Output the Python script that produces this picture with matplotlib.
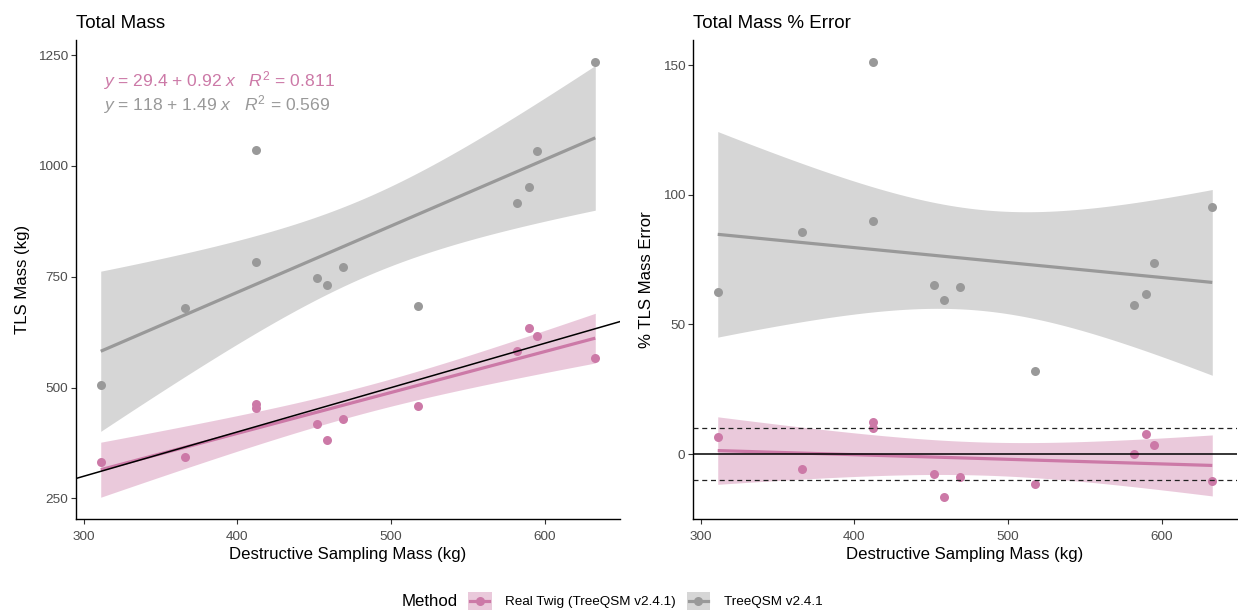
import numpy as np
import matplotlib
matplotlib.use("Agg")
import matplotlib.pyplot as plt
from matplotlib.patches import Rectangle
from matplotlib.lines import Line2D
from matplotlib.legend_handler import HandlerBase

plt.rcParams['font.family'] = ['Liberation Sans', 'DejaVu Sans']
plt.rcParams['mathtext.fontset'] = 'custom'
plt.rcParams['mathtext.rm'] = 'Liberation Sans'
plt.rcParams['mathtext.it'] = 'Liberation Sans:italic'

# ---- data ----
destructive_mass = [311.2, 366.0, 411.9, 412.4, 452.0, 458.7, 468.8, 517.5, 581.8, 589.5, 595.3, 632.9]
treeqsm_mass = [505.6, 678.8, 1034.9, 783.7, 746.3, 730.5, 771.0, 683.3, 917.2, 952.4, 1034.0, 1235.0]
realtwig_mass = [331.7, 344.5, 453.9, 463.6, 417.9, 382.7, 428.4, 458.4, 582.1, 634.6, 617.3, 567.1]

methods = ["Real Twig (TreeQSM v2.4.1)", "TreeQSM v2.4.1"]
colors = ["#CC79A7", "#999999"]
eq_labels = [r"$y$ = 29.4 + 0.92 $x$   $R^2$ = 0.811",
             r"$y$ = 118 + 1.49 $x$   $R^2$ = 0.569"]
left_xticks = [300, 400, 500, 600]
left_yticks = [250, 500, 750, 1000, 1250]
right_yticks = [0, 50, 100, 150]
error_band = 10

T975 = 2.228139  # t quantile, df = 10


def fit_band(x, y, n=80):
    x = np.asarray(x, float); y = np.asarray(y, float)
    X = np.column_stack([np.ones_like(x), x])
    beta = np.linalg.lstsq(X, y, rcond=None)[0]
    resid = y - X @ beta
    s2 = resid @ resid / (len(x) - 2)
    inv = np.linalg.inv(X.T @ X)
    xs = np.linspace(x.min(), x.max(), n)
    Xs = np.column_stack([np.ones_like(xs), xs])
    yh = Xs @ beta
    se = np.sqrt(np.einsum('ij,jk,ik->i', Xs, inv, Xs) * s2)
    return xs, yh, yh - T975 * se, yh + T975 * se


def expand(lo, hi, f=0.05):
    d = hi - lo
    return lo - f * d, hi + f * d


class KeyHandler(HandlerBase):
    def __init__(self, color):
        super().__init__()
        self.color = color

    def create_artists(self, legend, orig_handle, xdescent, ydescent, width, height, fontsize, trans):
        rect = Rectangle((-xdescent, -ydescent), width, height, facecolor=self.color,
                         alpha=0.4, edgecolor='none', transform=trans)
        yc = -ydescent + height / 2
        m = width * 0.1
        line = Line2D([-xdescent + m, -xdescent + width - m], [yc, yc], color=self.color,
                      lw=2.3, transform=trans)
        pt = Line2D([-xdescent + width / 2], [yc], marker='o', markersize=6.5,
                    markeredgewidth=0, color=self.color, transform=trans)
        return [rect, line, pt]


x = np.array(destructive_mass)
series_mass = [np.array(realtwig_mass), np.array(treeqsm_mass)]
series_err = [(m - x) / x * 100 for m in series_mass]

fig = plt.figure(figsize=(12.38, 6.12), dpi=100)
axL = fig.add_axes([76 / 1238, 93 / 612, 544 / 1238, 479 / 612])
axR = fig.add_axes([693 / 1238, 93 / 612, 544 / 1238, 479 / 612])

TICK_COLOR = "#4D4D4D"

for ax, ys_list in [(axL, series_mass), (axR, series_err)]:
    allv = []
    for ys, c in zip(ys_list, colors):
        xs, yh, lo, hi = fit_band(x, ys)
        ax.fill_between(xs, lo, hi, color=c, alpha=0.4, lw=0, zorder=1)
        ax.scatter(x, ys, s=42, color=c, lw=0, zorder=2)
        ax.plot(xs, yh, color=c, lw=2.3, zorder=3, solid_capstyle='butt')
        allv += list(ys) + list(lo) + list(hi)
    ax.set_xlim(*expand(x.min(), x.max()))
    ax.set_ylim(*expand(min(allv), max(allv)))
    for s in ['top', 'right']:
        ax.spines[s].set_visible(False)
    for s in ['left', 'bottom']:
        ax.spines[s].set_linewidth(1.0)
        ax.spines[s].set_color('black')
    ax.tick_params(axis='both', labelsize=9.7, colors='#333333', labelcolor=TICK_COLOR,
                   length=3.5, width=0.8, pad=2)
    ax.tick_params(axis='x', pad=5)
    ax.set_xticks(left_xticks)
    ax.set_xlabel("Destructive Sampling Mass (kg)", fontsize=12.1, labelpad=3)

# 1:1 line
axL.axline((0, 0), slope=1, color='black', lw=1.1, zorder=4)
axL.set_yticks(left_yticks)
axL.set_ylabel("TLS Mass (kg)", fontsize=12.1, labelpad=6)
axL.set_title("Total Mass", loc='left', fontsize=13.5, pad=9)
for i, (lab, c) in enumerate(zip(eq_labels, colors)):
    axL.text(0.05, 0.916 - 0.05 * i, lab, transform=axL.transAxes, color=c,
             fontsize=12.6, ha='left', va='center')

axR.axhline(0, color='black', lw=1.1, zorder=4)
axR.axhline(error_band, color='#222222', lw=0.9, ls=(0, (4, 3)), zorder=4)
axR.axhline(-error_band, color='#222222', lw=0.9, ls=(0, (4, 3)), zorder=4)
axR.set_yticks(right_yticks)
axR.set_ylabel("% TLS Mass Error", fontsize=12.1, labelpad=6)
axR.set_title("Total Mass % Error", loc='left', fontsize=13.5, pad=9)

# legend
handles = [Line2D([], [], color=c) for c in colors]
hmap = {h: KeyHandler(c) for h, c in zip(handles, colors)}
fig.text(402 / 1238, 1 - 601 / 612, "Method", fontsize=12.1, ha='left', va='center')
fig.legend(handles, methods, handler_map=hmap,
           loc='center left', bbox_to_anchor=(468 / 1238, 1 - 601 / 612), ncol=2,
           frameon=False, fontsize=9.7, handlelength=1.75, handleheight=1.75,
           columnspacing=0.8, handletextpad=1.0, borderaxespad=0, borderpad=0)

fig.savefig("out.png", dpi=100)
